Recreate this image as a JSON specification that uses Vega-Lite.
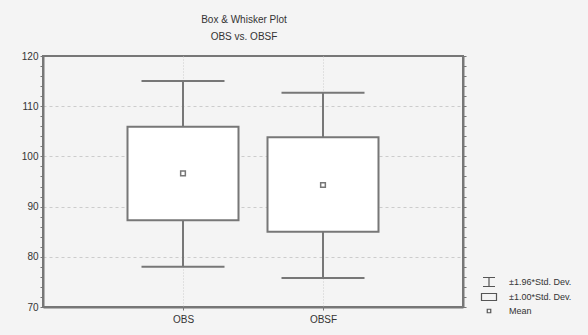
{
  "$schema": "https://vega.github.io/schema/vega-lite/v6.json",
  "width": 420,
  "height": 251,
  "autosize": "none",
  "padding": {"left": 43, "top": 56, "right": 125, "bottom": 28},
  "background": "#f4f4f4",
  "title": {
    "text": "Box & Whisker Plot",
    "subtitle": "OBS vs. OBSF",
    "font": "Liberation Sans",
    "subtitleFont": "Liberation Sans",
    "fontSize": 10,
    "subtitleFontSize": 10,
    "fontWeight": "normal",
    "color": "#333",
    "subtitleColor": "#333",
    "dx": -9,
    "offset": 9,
    "subtitlePadding": 7
  },
  "config": {
    "view": {"fill": "white", "stroke": "#777", "strokeWidth": 2},
    "font": "Liberation Sans",
    "axis": {
      "labelFont": "Liberation Sans",
      "labelFontSize": 10,
      "labelColor": "#333",
      "domainColor": "#777",
      "domainWidth": 2,
      "tickColor": "#777",
      "title": null
    }
  },
  "data": {
    "values": [
      {"cat": "OBS", "mean": 96.6, "lo1": 87.3, "hi1": 105.9, "lo196": 78.0, "hi196": 115.0},
      {"cat": "OBSF", "mean": 94.3, "lo1": 85.0, "hi1": 103.8, "lo196": 75.8, "hi196": 112.7}
    ]
  },
  "resolve": {"axis": {"y": "independent"}},
  "layer": [
    {
      "mark": {"type": "rule", "color": "#777", "strokeWidth": 2},
      "encoding": {
        "x": {
          "field": "cat", "type": "nominal",
          "scale": {"type": "point", "padding": 1},
          "axis": {"labelAngle": 0, "tickSize": 3, "labelPadding": 4, "grid": true, "gridDash": [1, 2], "gridColor": "#ccc"}
        },
        "y": {
          "field": "lo196", "type": "quantitative",
          "scale": {"domain": [70, 120], "nice": false, "zero": false},
          "axis": {
            "values": [70,72,74,76,78,80,82,84,86,88,90,92,94,96,98,100,102,104,106,108,110,112,114,116,118,120],
            "labelExpr": "datum.value % 10 === 0 ? datum.label : ''",
            "tickSize": 3,
            "labelPadding": 2,
            "grid": true,
            "gridColor": "#ccc",
            "gridDash": [3, 3],
            "gridOpacity": {"condition": {"test": "datum.value % 10 === 0 && datum.value > 70 && datum.value < 120", "value": 1}, "value": 0}
          }
        },
        "y2": {"field": "hi196"}
      }
    },
    {
      "mark": {"type": "tick", "color": "#777", "size": 83, "thickness": 2, "opacity": 1},
      "encoding": {
        "x": {"field": "cat", "type": "nominal"},
        "y": {"field": "hi196", "type": "quantitative", "axis": null}
      }
    },
    {
      "mark": {"type": "tick", "color": "#777", "size": 83, "thickness": 2, "opacity": 1},
      "encoding": {
        "x": {"field": "cat", "type": "nominal"},
        "y": {"field": "lo196", "type": "quantitative", "axis": null}
      }
    },
    {
      "mark": {"type": "bar", "fill": "white", "stroke": "#777", "strokeWidth": 2, "size": 111},
      "encoding": {
        "x": {"field": "cat", "type": "nominal"},
        "y": {"field": "lo1", "type": "quantitative", "axis": null},
        "y2": {"field": "hi1"}
      }
    },
    {
      "mark": {"type": "point", "shape": "square", "size": 22, "filled": false, "color": "#777", "strokeWidth": 1.5, "opacity": 1},
      "encoding": {
        "x": {"field": "cat", "type": "nominal"},
        "y": {
          "field": "mean", "type": "quantitative",
          "axis": {
            "orient": "right",
            "values": [70,72,74,76,78,80,82,84,86,88,90,92,94,96,98,100,102,104,106,108,110,112,114,116,118,120],
            "labels": false,
            "tickSize": 3,
            "grid": false
          }
        }
      }
    },
    {
      "data": {"values": [{"item": "±1.96*Std. Dev."}, {"item": "±1.00*Std. Dev."}, {"item": "Mean"}]},
      "mark": {"type": "point", "opacity": 0},
      "encoding": {
        "shape": {
          "field": "item", "type": "nominal",
          "scale": {
            "domain": ["±1.96*Std. Dev.", "±1.00*Std. Dev.", "Mean"],
            "range": ["M-1.2,-0.9H1.2M0,-0.9V0.9M-1.2,0.9H1.2", "M-1.5,-0.7H1.5V0.7H-1.5Z", "M-0.35,-0.35H0.35V0.35H-0.35Z"]
          },
          "legend": {
            "orient": "none",
            "legendX": 440,
            "legendY": 220,
            "title": null,
            "symbolSize": 100,
            "symbolStrokeColor": "#555",
            "symbolFillColor": "white",
            "symbolStrokeWidth": 1.2,
            "symbolOpacity": 1,
            "labelFontSize": 9,
            "labelColor": "#333",
            "labelOffset": 14,
            "rowPadding": 2,
            "encode": {"symbols": {"update": {"opacity": {"value": 1}, "strokeOpacity": {"value": 1}, "fillOpacity": {"value": 1}, "stroke": {"value": "#555"}, "fill": {"value": "white"}}}}
          }
        }
      }
    }
  ]
}
